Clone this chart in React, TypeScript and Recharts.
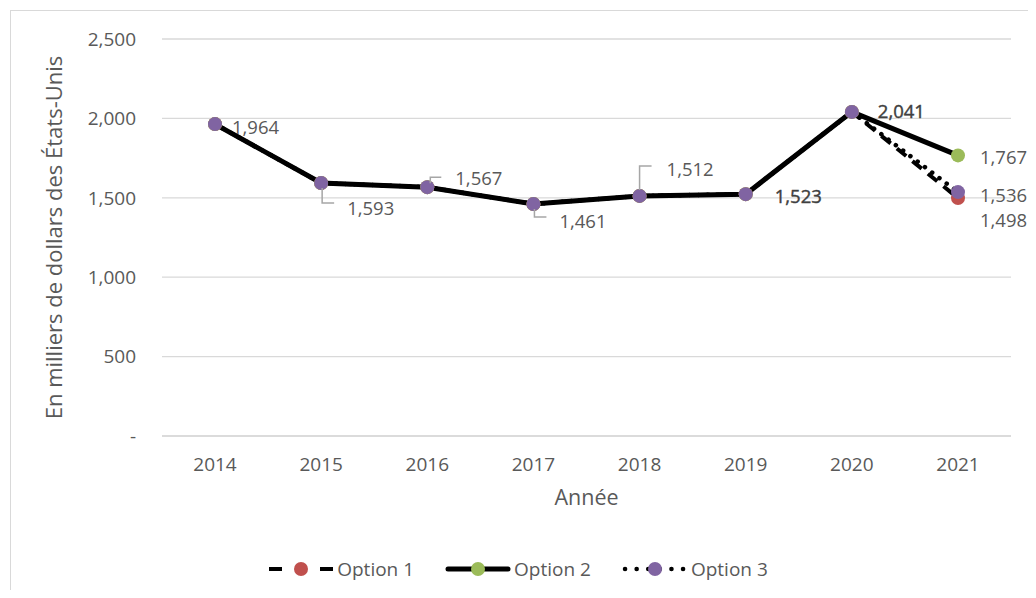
import { LineChart, Line, XAxis, YAxis, CartesianGrid, Legend, LabelList } from 'recharts'

const years = ['2014', '2015', '2016', '2017', '2018', '2019', '2020', '2021']
const option1 = [1964, 1593, 1567, 1461, 1512, 1523, 2041, 1498]
const option2 = [1964, 1593, 1567, 1461, 1512, 1523, 2041, 1767]
const option3 = [1964, 1593, 1567, 1461, 1512, 1523, 2041, 1536]
const yTicks = [0, 500, 1000, 1500, 2000, 2500]

const data = years.map((y, i) => ({ year: y, o1: option1[i], o2: option2[i], o3: option3[i] }))

const TEXT = '#595959'
const LEADER = '#a6a6a6'
const FONT = '"Open Sans", sans-serif'
const RED = '#C0504D'
const GREEN = '#9BBB59'
const PURPLE = '#8064A2'

// label placement per point: dx/dy of text start, optional leader path
type Place = { dx: number; dy: number; leader?: 'down' | 'up-flag' | 'up' }
const places3: Place[] = [
  { dx: 17, dy: 2 },
  { dx: 26, dy: 24, leader: 'down' },
  { dx: 28, dy: -10, leader: 'up-flag' },
  { dx: 26, dy: 17, leader: 'down' },
  { dx: 27, dy: -27, leader: 'up' },
  { dx: 29, dy: 1 },
  { dx: 26, dy: -1 },
  { dx: 22, dy: 2 },
]

function makeLabel(places: Record<number, Place>, bold?: number[]) {
  return (props: any) => {
    const { x, y, index, value } = props
    const p = places[index]
    if (!p) return null
    const tx = x + p.dx
    const ty = y + p.dy
    let leader = null
    if (p.leader === 'down') {
      leader = <path d={`M${x + 1},${y + 5} V${ty - 4} H${tx - 13}`} stroke={LEADER} strokeWidth={1.5} fill="none" />
    } else if (p.leader === 'up-flag') {
      leader = <path d={`M${x + 3},${y - 4} V${ty} H${tx - 14}`} stroke={LEADER} strokeWidth={1.5} fill="none" />
    } else if (p.leader === 'up') {
      leader = <path d={`M${x},${y - 6} V${ty - 3} H${tx - 15}`} stroke={LEADER} strokeWidth={1.5} fill="none" />
    }
    const isBold = bold && bold.includes(index)
    return (
      <g>
        {leader}
        <text
          x={tx}
          y={ty}
          dominantBaseline="central"
          fill={isBold ? '#404040' : TEXT}
          stroke={isBold ? '#404040' : 'none'}
          strokeWidth={isBold ? 0.4 : 0}
          fontSize={18.5}
          fontFamily={FONT}
        >
          {Number(value).toLocaleString('en-US')}
        </text>
      </g>
    )
  }
}

const label3 = makeLabel(Object.fromEntries(places3.map((p, i) => [i, p])), [5, 6])
const label2 = makeLabel({ 7: { dx: 22, dy: 1 } })
const label1 = makeLabel({ 7: { dx: 22, dy: 21 } })

function LegendContent() {
  const items = [
    { name: 'Option 1', color: RED, kind: 'dash' },
    { name: 'Option 2', color: GREEN, kind: 'solid' },
    { name: 'Option 3', color: PURPLE, kind: 'dot' },
  ]
  return (
    <div style={{ display: 'flex', justifyContent: 'center', gap: 31, fontFamily: FONT, fontSize: 19, color: TEXT }}>
      {items.map(it => (
        <div key={it.name} style={{ display: 'flex', alignItems: 'center' }}>
          <svg width={66} height={20}>
            {it.kind === 'dash' && (
              <g stroke="#000" strokeWidth={4}>
                <line x1={1} y1={10} x2={14} y2={10} />
                <line x1={52} y1={10} x2={65} y2={10} />
              </g>
            )}
            {it.kind === 'solid' && (
              <line x1={3} y1={10} x2={63} y2={10} stroke="#000" strokeWidth={5} strokeLinecap="round" />
            )}
            {it.kind === 'dot' && (
              <line x1={3} y1={10} x2={63} y2={10} stroke="#000" strokeWidth={4.5} strokeDasharray="0.1 11.5" strokeLinecap="round" />
            )}
            <circle cx={33} cy={10} r={7} fill={it.color} />
          </svg>
          <span style={{ marginLeft: 3 }}>{it.name}</span>
        </div>
      ))}
    </div>
  )
}

export default function App() {
  return (
    <div style={{ position: 'relative', width: 1036, height: 598, margin: -8, overflow: 'hidden', background: '#fff' }}>
      <div style={{ position: 'absolute', left: 10, top: 10, width: 1040, height: 600, border: '1px solid #d9d9d9' }} />
      <div style={{ position: 'absolute', left: 0, top: 0 }}>
        <LineChart width={1036} height={598} data={data} margin={{ top: 39, right: 25, left: 102, bottom: 132 }}>
          <CartesianGrid vertical={false} stroke="#d9d9d9" strokeWidth={1.3} />
          <XAxis
            dataKey="year"
            padding={{ left: 53, right: 53 }}
            axisLine={{ stroke: '#d9d9d9', strokeWidth: 1.3 }}
            tickLine={false}
            tickSize={0}
            tickMargin={22}
            height={30}
            tick={{ fontSize: 19, fill: TEXT, fontFamily: FONT }}
            label={{ value: 'Année', position: 'bottom', offset: 24, fill: TEXT, fontSize: 21.5, fontFamily: FONT }}
          />
          <YAxis
            domain={[0, 2500]}
            ticks={yTicks}
            width={60}
            axisLine={false}
            tickLine={false}
            tickSize={0}
            tickMargin={26}
            tick={{ fontSize: 19, fill: TEXT, fontFamily: FONT }}
            tickFormatter={v => (v === 0 ? '-' : Number(v).toLocaleString('en-US'))}
            label={{
              value: 'En milliers de dollars des États-Unis',
              angle: -90,
              position: 'insideLeft',
              offset: -48,
              fill: TEXT,
              fontSize: 22,
              fontFamily: FONT,
              style: { textAnchor: 'middle' },
            }}
          />
          <Legend layout="horizontal" verticalAlign="middle" align="center" wrapperStyle={{ top: 556, left: 0, width: 1036 }} content={LegendContent} />
          <Line
            dataKey="o1"
            name="Option 1"
            stroke="#000"
            strokeWidth={4}
            strokeDasharray="12 8"
            dot={{ r: 7, fill: RED, stroke: 'none' }}
            isAnimationActive={false}
          >
            <LabelList dataKey="o1" content={label1} />
          </Line>
          <Line
            dataKey="o3"
            name="Option 3"
            stroke="#000"
            strokeWidth={4.5}
            strokeDasharray="0.1 9"
            strokeLinecap="round"
            dot={false}
            isAnimationActive={false}
          />
          <Line
            dataKey="o2"
            name="Option 2"
            stroke="#000"
            strokeWidth={5}
            dot={{ r: 7, fill: GREEN, stroke: 'none' }}
            isAnimationActive={false}
          >
            <LabelList dataKey="o2" content={label2} />
          </Line>
          <Line
            dataKey="o3"
            name="Option 3 markers"
            stroke="none"
            dot={{ r: 7, fill: PURPLE, stroke: 'none' }}
            isAnimationActive={false}
            legendType="none"
          >
            <LabelList dataKey="o3" content={label3} />
          </Line>
        </LineChart>
      </div>
    </div>
  )
}
